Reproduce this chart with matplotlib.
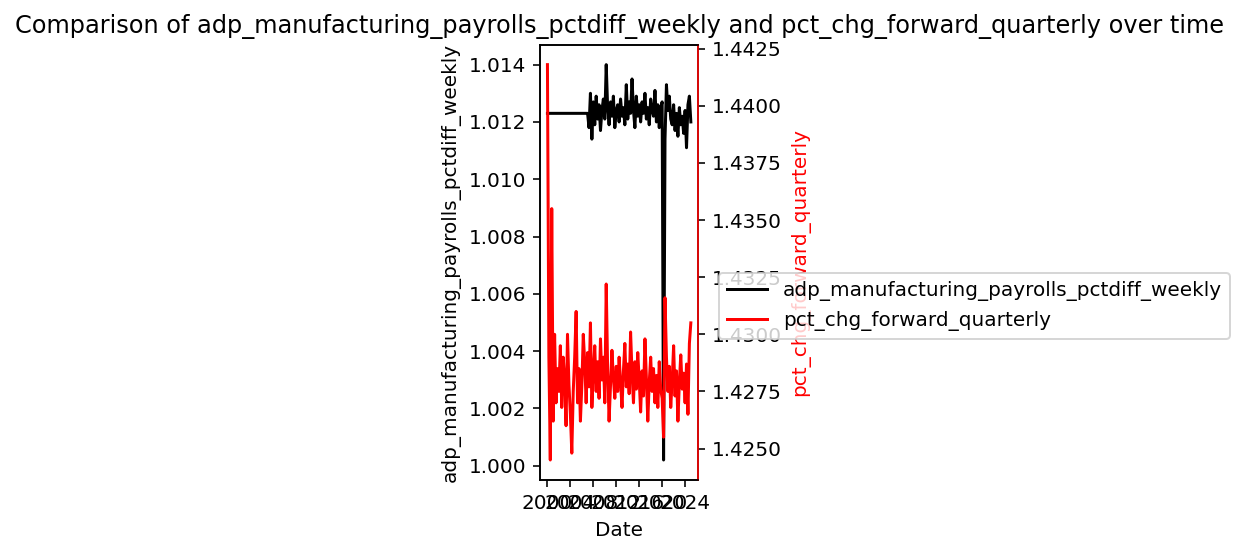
import numpy as np
import pandas as pd
import matplotlib
matplotlib.use("Agg")
import matplotlib.pyplot as plt

# quarterly observations, 2000 Q1 .. 2025 Q1
dates = pd.date_range("2000-01-01", periods=101, freq="QS")

adp_weekly = [
    1.0123, 1.0123, 1.0123, 1.0123, 1.0123, 1.0123, 1.0123, 1.0123,
    1.0123, 1.0123, 1.0123, 1.0123, 1.0123, 1.0123, 1.0123, 1.0123,
    1.0123, 1.0123, 1.0123, 1.0123, 1.0123, 1.0123, 1.0123, 1.0123,
    1.0123, 1.0123, 1.0123, 1.0123, 1.0123, 1.0118, 1.0130, 1.0114,
    1.0127, 1.0119, 1.0129, 1.0121, 1.0126, 1.0117, 1.0124, 1.0128,
    1.0121, 1.0140, 1.0125, 1.0119, 1.0127, 1.0122, 1.0129, 1.0118,
    1.0124, 1.0126, 1.0120, 1.0128, 1.0122, 1.0125, 1.0119, 1.0133,
    1.0121, 1.0127, 1.0123, 1.0135, 1.0124, 1.0118, 1.0129, 1.0122,
    1.0126, 1.0120, 1.0127, 1.0123, 1.0130, 1.0121, 1.0125, 1.0119,
    1.0128, 1.0124, 1.0122, 1.0131, 1.0120, 1.0126, 1.0118, 1.0125,
    1.0127, 1.0002, 1.0114, 1.0133, 1.0124, 1.0129, 1.0121, 1.0119,
    1.0126, 1.0117, 1.0123, 1.0115, 1.0125, 1.0119, 1.0122, 1.0116,
    1.0124, 1.0111, 1.0126, 1.0129, 1.0120,
]

pct_fwd_quarterly = [
    1.4418, 1.4290, 1.4245, 1.4355, 1.4262, 1.4300, 1.4270, 1.4285,
    1.4275, 1.4295, 1.4268, 1.4290, 1.4280, 1.4260, 1.4300, 1.4278,
    1.4265, 1.4248, 1.4275, 1.4290, 1.4310, 1.4270, 1.4285, 1.4262,
    1.4278, 1.4300, 1.4288, 1.4270, 1.4292, 1.4277, 1.4305, 1.4268,
    1.4283, 1.4295, 1.4275, 1.4288, 1.4272, 1.4298, 1.4280, 1.4290,
    1.4270, 1.4322, 1.4285, 1.4262, 1.4278, 1.4293, 1.4281, 1.4272,
    1.4286, 1.4275, 1.4290, 1.4279, 1.4268, 1.4284, 1.4296, 1.4277,
    1.4287, 1.4274, 1.4301, 1.4283, 1.4270, 1.4288, 1.4276, 1.4292,
    1.4280, 1.4266, 1.4284, 1.4273, 1.4298, 1.4281, 1.4262, 1.4279,
    1.4290, 1.4275, 1.4285, 1.4270, 1.4282, 1.4268, 1.4288, 1.4276,
    1.4272, 1.4255, 1.4316, 1.4290, 1.4275, 1.4286, 1.4268, 1.4280,
    1.4295, 1.4273, 1.4284, 1.4262, 1.4279, 1.4291, 1.4276, 1.4283,
    1.4270, 1.4287, 1.4265, 1.4296, 1.4305,
]

fig = plt.figure(figsize=(12.42 / 1.44, 5.54 / 1.44), dpi=144)
ax = fig.add_axes([0.435, 0.134, 0.127, 0.785])
ax.plot(dates, adp_weekly, color="black", label="adp_manufacturing_payrolls_pctdiff_weekly")
ax.set_xlabel("Date")
ax.set_ylabel("adp_manufacturing_payrolls_pctdiff_weekly")
ax.set_xticks(pd.to_datetime([f"{y}-01-01" for y in range(2000, 2025, 4)]))
ax.set_xticklabels([str(y) for y in range(2000, 2025, 4)])

ax2 = ax.twinx()
ax2.plot(dates, pct_fwd_quarterly, color="red", label="pct_chg_forward_quarterly")
ax2.set_ylabel("pct_chg_forward_quarterly", color="red")
ax2.spines["right"].set_color("red")

ax.set_title("Comparison of adp_manufacturing_payrolls_pctdiff_weekly and pct_chg_forward_quarterly over time")

h1, l1 = ax.get_legend_handles_labels()
h2, l2 = ax2.get_legend_handles_labels()
ax2.legend(h1 + h2, l1 + l2, loc="center left", bbox_to_anchor=(1.07, 0.40))

fig.savefig("out.png", dpi=144)
